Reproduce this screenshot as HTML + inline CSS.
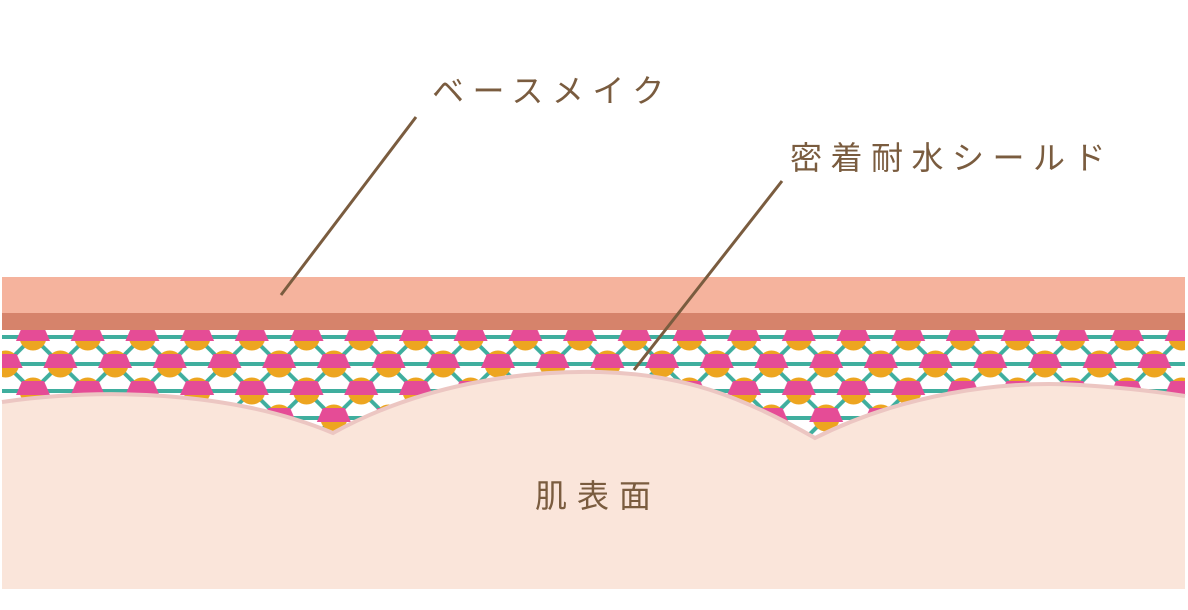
<!DOCTYPE html>
<html><head><meta charset="utf-8"><style>
html,body{margin:0;padding:0;background:#fff;}
svg{display:block;}
text{font-family:"Liberation Sans","Noto Sans CJK JP",sans-serif;fill:#7a5c3f;}
</style></head><body>
<svg width="1188" height="610" viewBox="0 0 1188 610" xmlns="http://www.w3.org/2000/svg">
<defs>
<g id="m"><circle r="13.5" fill="#eda520"/><polygon points="-11,-10 11,-10 17,4 -17,4" fill="#e54c96"/></g>
<pattern id="mol" patternUnits="userSpaceOnUse" x="33" y="310" width="54.7" height="54">
  <g stroke="#3fae9e" stroke-width="4">
    <line x1="-2" y1="0" x2="57" y2="0"/>
    <line x1="-2" y1="27" x2="57" y2="27"/>
    <line x1="-2" y1="54" x2="57" y2="54"/>
    <line x1="0" y1="27" x2="27.35" y2="0"/>
    <line x1="0" y1="27" x2="27.35" y2="54"/>
    <line x1="54.7" y1="27" x2="27.35" y2="0"/>
    <line x1="54.7" y1="27" x2="27.35" y2="54"/>
  </g>
  <use href="#m" x="0" y="27"/>
  <use href="#m" x="54.7" y="27"/>
  <use href="#m" x="27.35" y="0"/>
  <use href="#m" x="27.35" y="54"/>
</pattern>
</defs>
<rect x="2" y="330" width="1183" height="115" fill="url(#mol)"/>
<rect x="2" y="277" width="1183" height="37" fill="#f5b39d"/>
<rect x="2" y="313" width="1183" height="17" fill="#d6836b"/>
<path d="M2,402 C100,388 230,390 333,433 C420,385 520,370 600,372 C680,374 740,395 815,438 C900,395 1000,380 1080,385 C1130,388 1160,392 1185,396 L1185,589 L2,589 Z" fill="#fae5da"/>
<path d="M2,402 C100,388 230,390 333,433 C420,385 520,370 600,372 C680,374 740,395 815,438 C900,395 1000,380 1080,385 C1130,388 1160,392 1185,396" fill="none" stroke="#ecc6c2" stroke-width="4"/>
<line x1="281" y1="295" x2="416" y2="117" stroke="#7a5c3f" stroke-width="3"/>
<line x1="634" y1="370" x2="782" y2="181" stroke="#7a5c3f" stroke-width="3"/>
<text x="432" y="102" font-size="32" letter-spacing="8.5">ベースメイク</text>
<text x="790" y="169" font-size="32" letter-spacing="8.5">密着耐水シールド</text>
<text x="535" y="507" font-size="32" letter-spacing="10">肌表面</text>
</svg>
</body></html>
